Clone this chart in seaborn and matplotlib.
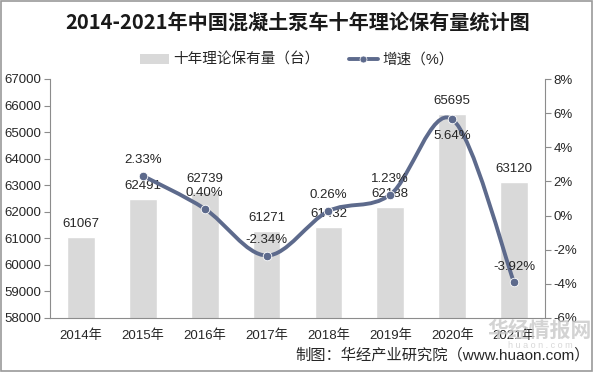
import numpy as np
import pandas as pd
import seaborn as sns
import matplotlib
matplotlib.use("Agg")
import matplotlib.pyplot as plt
from matplotlib.path import Path
from matplotlib.patches import PathPatch, Patch, Rectangle
from matplotlib.lines import Line2D

years = ["2014年", "2015年", "2016年", "2017年", "2018年", "2019年", "2020年", "2021年"]
holdings = [61067, 62491, 62739, 61271, 61432, 62188, 65695, 63120]
growth = [None, 2.33, 0.40, -2.34, 0.26, 1.23, 5.64, -3.92]
growth_labels = ["", "2.33%", "0.40%", "-2.34%", "0.26%", "1.23%", "5.64%", "-3.92%"]
left_ticks = list(range(58000, 67001, 1000))
right_ticks = list(range(-6, 9, 2))

sns.set_theme(style="white")
FONT = ["Liberation Sans", "Noto Sans CJK SC", "DejaVu Sans"]
plt.rcParams["font.family"] = FONT
plt.rcParams["axes.unicode_minus"] = False

BAR = "#d9d9d9"
LINE = "#5d6a8c"
TXT = "#262626"
AX = "#8c8c8c"

fig = plt.figure(figsize=(5.93, 3.72), dpi=100)
fig.patch.set_facecolor("white")
ax = fig.add_axes([50/593, 1-318/372, (545-50)/593, (318-79)/372])

df = pd.DataFrame({"year": years, "holdings": holdings})
sns.barplot(data=df, x="year", y="holdings", color=BAR, width=0.45, ax=ax, saturation=1)
ax.set_ylim(58000, 67000)
ax.set_xlim(-0.5, len(years) - 0.5)
ax.set_yticks(left_ticks)
ax.set_yticklabels([str(v) for v in left_ticks], fontsize=9.5, color=TXT)
ax.set_xlabel("")
ax.set_ylabel("")
ax.set_xticks(range(len(years)))
ax.set_xticklabels(years, fontsize=9.5, color=TXT)
ax.tick_params(axis="x", length=0, pad=8)
ax.set_xticks(np.arange(-0.5, len(years), 1), minor=True)
ax.tick_params(axis="x", which="minor", length=5, color=AX, width=0.8, direction="out")
ax.tick_params(axis="y", length=4, color=AX, width=0.8, direction="out", pad=2, left=True)
for s in ["top", "right"]:
    ax.spines[s].set_visible(False)
for s in ["left", "bottom"]:
    ax.spines[s].set_color(AX)
    ax.spines[s].set_linewidth(0.8)

for i, v in enumerate(holdings):
    ax.annotate(str(v), (i, v), xytext=(0, 5), textcoords="offset points",
                ha="center", va="bottom", fontsize=9.5, color=TXT, zorder=5)

ax2 = ax.twinx()
ax2.set_ylim(-6, 8)
ax2.set_yticks(right_ticks)
ax2.set_yticklabels([f"{v}%" for v in right_ticks], fontsize=9.5, color=TXT)
ax2.tick_params(axis="y", length=4, color=AX, width=0.8, direction="out", pad=2, right=True)
for s in ["top", "left", "bottom"]:
    ax2.spines[s].set_visible(False)
ax2.spines["right"].set_color(AX)
ax2.spines["right"].set_linewidth(0.8)

gx = [i for i, g in enumerate(growth) if g is not None]
gy = [g for g in growth if g is not None]
pts = np.array(list(zip(gx, gy)), dtype=float)
n = len(pts)
verts = [tuple(pts[0])]
codes = [Path.MOVETO]
for i in range(n - 1):
    p0 = pts[i - 1] if i > 0 else pts[i]
    p1 = pts[i]
    p2 = pts[i + 1]
    p3 = pts[i + 2] if i + 2 < n else pts[i + 1]
    c1 = p1 + (p2 - p0) / 6.0
    c2 = p2 - (p3 - p1) / 6.0
    verts += [tuple(c1), tuple(c2), tuple(p2)]
    codes += [Path.CURVE4] * 3
ax2.add_patch(PathPatch(Path(verts, codes), facecolor="none", edgecolor=LINE, lw=2.8,
                        capstyle="round", zorder=3))
sns.scatterplot(x=gx, y=gy, color=LINE, s=38, edgecolor="white", linewidth=0.6, ax=ax2, zorder=4)

for i, g in enumerate(growth):
    if g is None:
        continue
    lab = growth_labels[i]
    if i == 6:
        ax2.annotate(lab, (i, g), xytext=(0, -8), textcoords="offset points",
                     ha="center", va="top", fontsize=9.5, color=TXT, zorder=6)
    else:
        ax2.annotate(lab, (i, g), xytext=(0, 7), textcoords="offset points",
                     ha="center", va="bottom", fontsize=9.5, color=TXT, zorder=6)

fig.text(0.502, 1-22/372, "2014-2021年中国混凝土泵车十年理论保有量统计图", ha="center", va="center",
         fontsize=14.5, fontweight="bold", color="#1a1a1a", family=["Noto Sans CJK SC", "DejaVu Sans"])

handles = [Patch(facecolor=BAR, edgecolor="none"),
           Line2D([0], [0], color=LINE, lw=2.8, marker="o", markersize=5, markeredgecolor="white",
                  markeredgewidth=0.5)]
fig.legend(handles, ["十年理论保有量（台）", "增速（%）"], loc="center", bbox_to_anchor=(0.5, 1-60/372),
           ncol=2, frameon=False, fontsize=10.5, handlelength=2.0, handleheight=0.7, columnspacing=2.0,
           handletextpad=0.3, labelcolor=TXT)

fig.text(590/593, 1-355/372, "制图：华经产业研究院（www.huaon.com）", ha="right", va="center",
         fontsize=11, color=TXT)
fig.text(540/593, 1-330/372, "华经情报网", ha="center", va="center", fontsize=15, fontweight="bold",
         color="#c8c8c8", alpha=0.8, family=["Noto Sans CJK SC", "DejaVu Sans"], zorder=10)
fig.text(540/593, 1-345/372, "h u a o n . c o m", ha="center", va="center", fontsize=6.5,
         color="#d8d8d8", zorder=10)

fig.patches.append(Rectangle((0.002, 0.002), 0.996, 0.996, transform=fig.transFigure, fill=False,
                             edgecolor="#9a9a9a", lw=1.2))

fig.savefig("out.png", dpi=100)
